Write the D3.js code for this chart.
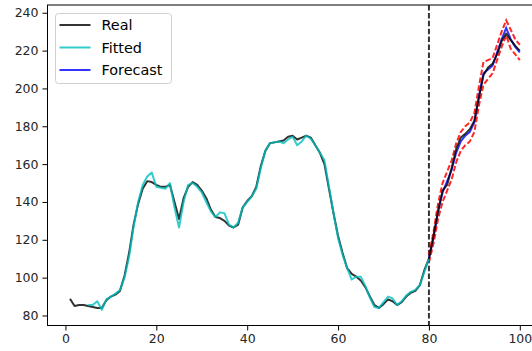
<!DOCTYPE html>
<html>
<head>
<meta charset="utf-8">
<script src="https://cdn.jsdelivr.net/npm/d3@7"></script>
<style>
  html, body { margin: 0; padding: 0; background: #fff; }
  svg { display: block; font-family: "DejaVu Sans", sans-serif; }
</style>
</head>
<body>
<svg id="chart" width="532" height="351"></svg>
<script>
// Observed series, t = 1..100
const realValues = [
  88.8, 85, 85.5, 85.5, 85, 84.5, 84, 84, 88, 90,
  91, 93, 101, 113, 128, 139, 147, 151, 150.5, 149,
  148, 148, 149, 140, 131, 142, 148, 150.5, 149, 146,
  142, 136, 132, 131.5, 130, 127.5, 126.5, 128, 137, 140.5,
  143, 148, 159, 167, 171, 171.5, 172, 172.5, 174.5, 175,
  173, 174, 175, 174, 170, 166, 160, 147, 134, 122,
  113, 105, 102, 100.5, 98.5, 95, 90, 85.5, 84, 86,
  88.5, 87.5, 85.5, 87, 90, 92, 93, 96, 104, 110,
  122, 135, 146, 149, 158, 168, 174, 176, 178.5, 183,
  195, 207, 211, 213, 218, 225, 229, 225.5, 222.5, 220
];
const realStart = 1;

// In-sample fit, t = 5..80
const fittedValues = [
  85.5, 85.5, 87.5, 83, 88.5, 90,
  91.5, 93.5, 100, 111, 127, 140, 149, 153.5, 155.5, 148,
  147.5, 147, 150, 137, 126.5, 140, 149, 150, 148, 145,
  140, 135, 132, 134.5, 134, 128, 126.5, 129, 137, 140,
  143, 147, 158, 167, 171, 171.5, 172, 171, 173, 174.5,
  170, 172, 175, 173.5, 170, 166, 162, 148, 134, 121,
  112, 105, 99, 100.5, 100.5, 95.5, 89.5, 84.5, 84, 87,
  90, 89, 85.5, 87.5, 90.5, 92.5, 93.5, 96, 103, 110
];
const fittedStart = 5;

// Out-of-sample forecast with interval bounds, t = 80..100
const forecastValues = [110, 121, 135, 145, 151, 157, 166, 172, 175, 177, 182, 196, 208, 210, 212, 219, 226, 232, 226, 222, 219];
const upperValues    = [112, 124, 139, 150, 156, 162, 171, 177, 180, 182, 187, 201, 214, 215, 216, 223, 230, 236, 231, 226, 223];
const lowerValues    = [108, 118, 131, 140, 146, 152, 161, 167, 170, 172, 177, 191, 202, 205, 208, 215, 222, 228, 221, 218, 215];
const forecastStart = 80;

const splitAt = 80;
const xTicks = [0, 20, 40, 60, 80, 100];
const yTicks = [80, 100, 120, 140, 160, 180, 200, 220, 240];
const legendLabels = ["Real", "Fitted", "Forecast"];

const toPoints = (vals, start) => vals.map((v, i) => [start + i, v]);

const svg = d3.select("#chart");
const plotLeft = 47.5, plotRight = 542.3, plotTop = 5, plotBottom = 325.5;

const x = d3.scaleLinear().domain([-3.95, 104.95]).range([plotLeft, plotRight]);
const y = d3.scaleLinear().domain([74.7, 244.1]).range([plotBottom, plotTop]);

svg.append("defs").append("clipPath").attr("id", "plot-clip")
  .append("rect").attr("x", plotLeft).attr("y", plotTop)
  .attr("width", plotRight - plotLeft).attr("height", plotBottom - plotTop);

const line = d3.line().x(d => x(d[0])).y(d => y(d[1]));

const plot = svg.append("g").attr("clip-path", "url(#plot-clip)");

// vertical split marker
plot.append("line")
  .attr("x1", x(splitAt)).attr("x2", x(splitAt))
  .attr("y1", plotTop).attr("y2", plotBottom)
  .attr("stroke", "#000").attr("stroke-opacity", 0.8)
  .attr("stroke-width", 2).attr("stroke-dasharray", "5.5,2.4");

// forecast mean
plot.append("path").datum(toPoints(forecastValues, forecastStart))
  .attr("d", line).attr("fill", "none")
  .attr("stroke", "#0000ff").attr("stroke-opacity", 0.8).attr("stroke-width", 2);

// interval bounds
[upperValues, lowerValues].forEach(vals => {
  plot.append("path").datum(toPoints(vals, forecastStart))
    .attr("d", line).attr("fill", "none")
    .attr("stroke", "#ff0000").attr("stroke-opacity", 0.85).attr("stroke-width", 2)
    .attr("stroke-dasharray", "5.5,2.4");
});

// observed
plot.append("path").datum(toPoints(realValues, realStart))
  .attr("d", line).attr("fill", "none")
  .attr("stroke", "#000").attr("stroke-opacity", 0.8).attr("stroke-width", 2)
  .attr("stroke-linejoin", "round");

// fitted
plot.append("path").datum(toPoints(fittedValues, fittedStart))
  .attr("d", line).attr("fill", "none")
  .attr("stroke", "#00bfbf").attr("stroke-opacity", 0.8).attr("stroke-width", 2)
  .attr("stroke-linejoin", "round");

// axes
const xAxis = d3.axisBottom(x).tickValues(xTicks).tickSize(5).tickPadding(4).tickFormat(d3.format("d"));
const yAxis = d3.axisLeft(y).tickValues(yTicks).tickSize(5).tickPadding(4).tickFormat(d3.format("d"));

const gx = svg.append("g").attr("transform", `translate(0,${plotBottom})`).call(xAxis);
const gy = svg.append("g").attr("transform", `translate(${plotLeft},0)`).call(yAxis);
[gx, gy].forEach(g => {
  g.select(".domain").remove();
  g.selectAll(".tick line").attr("stroke", "#000").attr("stroke-width", 1);
  g.selectAll(".tick text").attr("fill", "#262626").style("font-size", "12.5px")
    .style("font-family", "'DejaVu Sans', sans-serif");
});

// frame
svg.append("rect")
  .attr("x", plotLeft).attr("y", plotTop)
  .attr("width", plotRight - plotLeft).attr("height", plotBottom - plotTop)
  .attr("fill", "none").attr("stroke", "#000").attr("stroke-width", 1);

// legend
const legend = svg.append("g").attr("transform", "translate(55.5,13.5)");
legend.append("rect").attr("width", 116).attr("height", 70).attr("rx", 3)
  .attr("fill", "#fff").attr("fill-opacity", 0.8)
  .attr("stroke", "#d0d0d0").attr("stroke-width", 1);
const legendColors = ["#000", "#00bfbf", "#0000ff"];
legendLabels.forEach((label, i) => {
  const row = legend.append("g").attr("transform", `translate(0,${11.5 + i * 22.5})`);
  row.append("line").attr("x1", 4).attr("x2", 35)
    .attr("stroke", legendColors[i]).attr("stroke-opacity", 0.8).attr("stroke-width", 2);
  row.append("text").attr("x", 46).attr("y", 0).attr("dy", "0.35em")
    .attr("fill", "#000").style("font-size", "14.4px").text(label);
});
</script>
</body>
</html>
